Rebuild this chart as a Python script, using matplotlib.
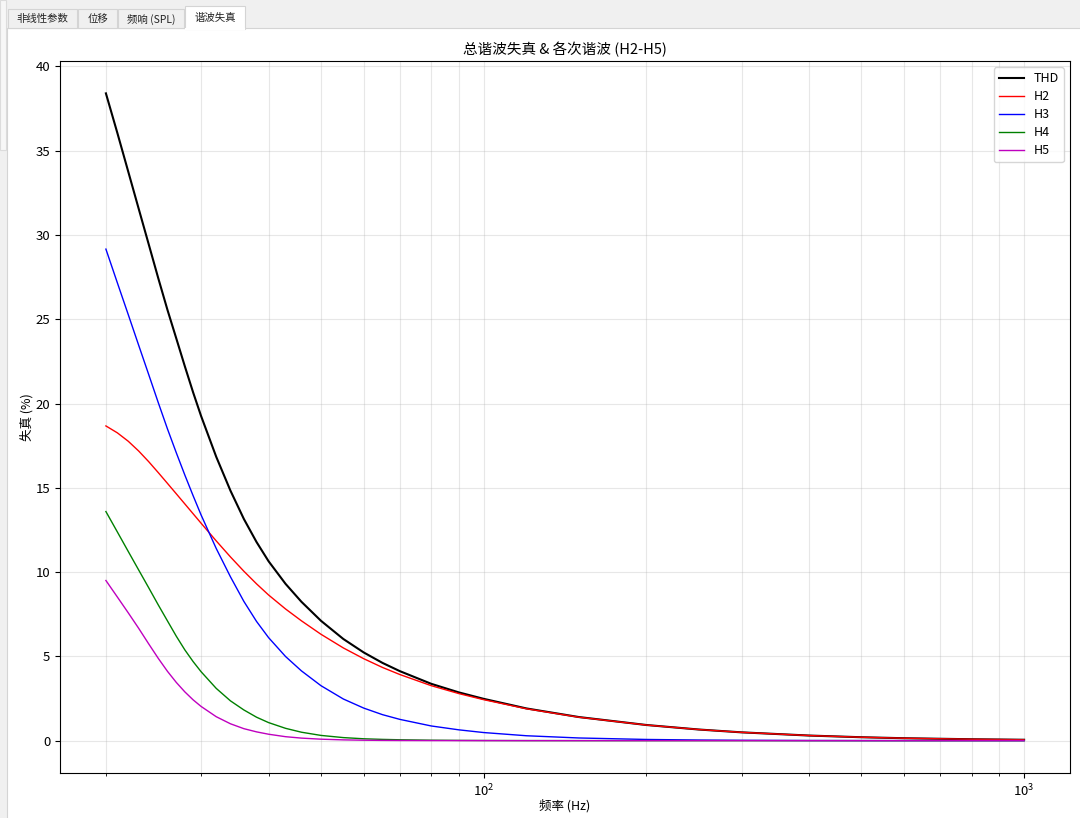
import matplotlib
matplotlib.use('Agg')
import matplotlib.pyplot as plt
from matplotlib.patches import Rectangle
from matplotlib.lines import Line2D

plt.rcParams['font.family'] = ['Noto Sans CJK SC', 'DejaVu Sans']
plt.rcParams['axes.unicode_minus'] = False

# ---- data ----
freq = [20, 21, 22, 23, 24, 25, 26, 27, 28, 29, 30, 32, 34, 36, 38, 40, 43, 46, 50, 55,
        60, 65, 70, 80, 90, 100, 120, 150, 200, 250, 300, 400, 500, 600, 800, 1000]
thd = [38.4, 36.05, 33.75, 31.55, 29.45, 27.43, 25.55, 23.85, 22.2, 20.66, 19.26, 16.84,
       14.83, 13.15, 11.78, 10.64, 9.30, 8.24, 7.11, 6.03, 5.23, 4.61, 4.12, 3.37, 2.86,
       2.48, 1.91, 1.40, 0.928, 0.660, 0.492, 0.302, 0.202, 0.143, 0.082, 0.052]
h2 = [18.67, 18.26, 17.76, 17.18, 16.55, 15.90, 15.26, 14.64, 14.04, 13.46, 12.90, 11.85,
      10.90, 10.05, 9.30, 8.64, 7.81, 7.11, 6.31, 5.50, 4.86, 4.34, 3.92, 3.26, 2.79,
      2.43, 1.89, 1.39, 0.925, 0.659, 0.492, 0.302, 0.202, 0.143, 0.082, 0.052]
h3 = [29.16, 27.16, 25.27, 23.45, 21.72, 20.05, 18.49, 17.07, 15.75, 14.53, 13.39, 11.40,
      9.72, 8.26, 7.07, 6.11, 4.99, 4.14, 3.26, 2.47, 1.93, 1.54, 1.26, 0.87, 0.64,
      0.48, 0.29, 0.158, 0.070, 0.036, 0.020, 0.0075, 0.0033, 0.0017, 0.0006, 0.0002]
h4 = [13.59, 12.38, 11.22, 10.12, 9.07, 8.05, 7.10, 6.19, 5.38, 4.69, 4.09, 3.10,
      2.36, 1.82, 1.39, 1.07, 0.73, 0.50, 0.31, 0.18, 0.11, 0.074, 0.051, 0.026, 0.015,
      0.009, 0.003, 0.001, 0, 0, 0, 0, 0, 0, 0, 0]
h5 = [9.5, 8.52, 7.58, 6.66, 5.74, 4.88, 4.11, 3.45, 2.89, 2.42, 2.03, 1.42,
      1.00, 0.71, 0.52, 0.38, 0.234, 0.15, 0.086, 0.045, 0.025, 0.014, 0.0088, 0.0035,
      0.0015, 0.0007, 0, 0, 0, 0, 0, 0, 0, 0, 0, 0]

series = [("THD", thd, "black", 1.5), ("H2", h2, "red", 1.0), ("H3", h3, "blue", 1.0),
          ("H4", h4, "green", 1.0), ("H5", h5, "m", 1.0)]

tab_labels = ["非线性参数", "位移", "频响 (SPL)", "谐波失真"]
title = "总谐波失真 & 各次谐波 (H2-H5)"
xlabel = "频率 (Hz)"
ylabel = "失真 (%)"

W, H = 1080, 818
fig = plt.figure(figsize=(W / 100, H / 100), dpi=100, facecolor='#f0f0f0')


def rect(x0, y0, x1, y1, fc, ec, lw=0.8, z=0):
    fig.add_artist(Rectangle((x0 / W, 1 - y1 / H), (x1 - x0) / W, (y1 - y0) / H,
                             transform=fig.transFigure, facecolor=fc, edgecolor=ec,
                             lw=lw, zorder=z))


# GUI frame
rect(0, 0, 6, 150, '#f7f7f7', '#dcdcdc')
rect(7, 28, 1082, 820, 'white', '#d4d4d4')
tabs = [(8, 77), (78, 117), (118, 184)]
for (a, b), lab in zip(tabs, tab_labels[:3]):
    rect(a, 9, b, 28, '#f0f0f0', '#d4d4d4')
    fig.text(((a + b) / 2) / W, 1 - 19 / H, lab, ha='center', va='center', fontsize=7.5,
             color='#222222')
rect(185, 6, 245, 29, 'white', '#d4d4d4', z=1)
fig.add_artist(Line2D([185.6 / W, 244.4 / W], [1 - 28.5 / H, 1 - 28.5 / H],
                      transform=fig.transFigure, color='white', lw=1.5, zorder=2))
fig.text(215 / W, 1 - 18 / H, tab_labels[3], ha='center', va='center', fontsize=7.5,
         color='#222222', zorder=3)

ax = fig.add_axes([60 / W, 45 / H, 1010 / W, 712 / H])
for name, vals, col, lw in series:
    ax.plot(freq, vals, color=col, lw=lw, label=name)
ax.set_xscale('log')
ax.grid(True, which='both', alpha=0.3)
ax.set_title(title, fontsize=10.5, pad=5)
ax.set_xlabel(xlabel, fontsize=9)
ax.set_ylabel(ylabel, fontsize=9)
ax.xaxis.set_label_coords(0.5, -0.036)
ax.yaxis.set_label_coords(-0.026, 0.5)
ax.tick_params(labelsize=9.5)
ax.legend(loc='upper right', fontsize=9, labelspacing=0.4)

fig.savefig('out.png', dpi=100, facecolor=fig.get_facecolor())
